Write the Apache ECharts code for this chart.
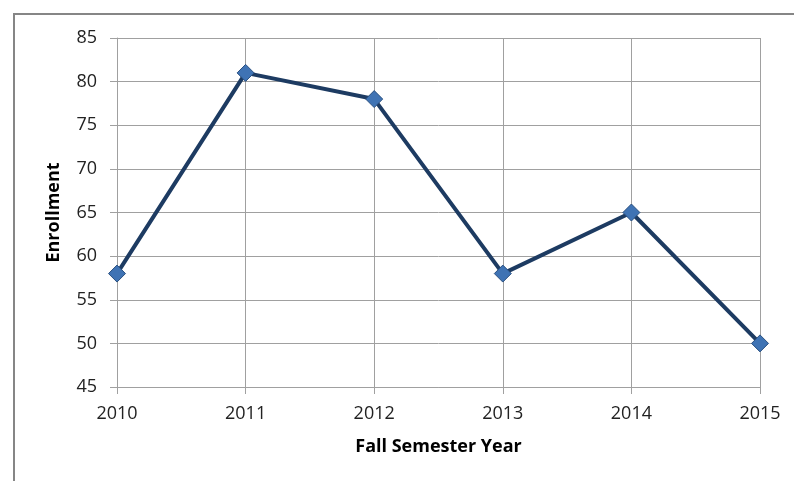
<!DOCTYPE html>
<html><head><meta charset="utf-8">
<script src="https://cdn.jsdelivr.net/npm/echarts@6/dist/echarts.min.js"></script>
<style>html,body{margin:0;padding:0;background:#fff}#c{width:794px;height:481px}</style>
</head><body><div id="c"></div>
<script>
var categories = ['2010','2011','2012','2013','2014','2015'];
var enrollment = [58, 81, 78, 58, 65, 50];
var yMin = 45, yMax = 85, yStep = 5;
var xTitle = 'Fall Semester Year';
var yTitle = 'Enrollment';

var chart = echarts.init(document.getElementById('c'), null, {renderer:'canvas'});
var font = 'Open Sans, Noto Sans, sans-serif';
chart.setOption({
  animation: false,
  backgroundColor: '#fff',
  graphic: [{type:'rect', shape:{x:14, y:14, width:820, height:520}, style:{fill:'none', stroke:'#868686', lineWidth:2}, z:-1}],
  grid: {left:117, top:38, right:34, bottom:94},
  xAxis: {
    type:'category', data:categories, boundaryGap:false,
    name:xTitle, nameLocation:'middle', nameGap:51,
    nameTextStyle:{fontFamily:font, fontWeight:'bold', fontSize:18, color:'#000'},
    axisLine:{show:true, lineStyle:{color:'#a0a0a0', width:1}},
    axisTick:{show:true, length:7, lineStyle:{color:'#a0a0a0'}},
    axisLabel:{fontFamily:font, fontSize:18, color:'#222', margin:18},
    splitLine:{show:true, lineStyle:{color:'#a0a0a0', width:1}}
  },
  yAxis: {
    type:'value', min:yMin, max:yMax, interval:yStep,
    name:yTitle, nameLocation:'middle', nameGap:54,
    nameTextStyle:{fontFamily:font, fontWeight:'bold', fontSize:18, color:'#000'},
    axisLine:{show:true, lineStyle:{color:'#a0a0a0', width:1}},
    axisTick:{show:true, length:7, lineStyle:{color:'#a0a0a0'}},
    axisLabel:{fontFamily:font, fontSize:18, color:'#222', margin:20},
    splitLine:{show:true, lineStyle:{color:'#a0a0a0', width:1}}
  },
  series: [{
    type:'line', data:enrollment,
    symbol:'diamond', symbolSize:17,
    lineStyle:{color:'#1d3b62', width:4},
    itemStyle:{color:'#3f73b4', borderColor:'#2a5080', borderWidth:1},
    z:3
  }]
});
</script></body></html>
